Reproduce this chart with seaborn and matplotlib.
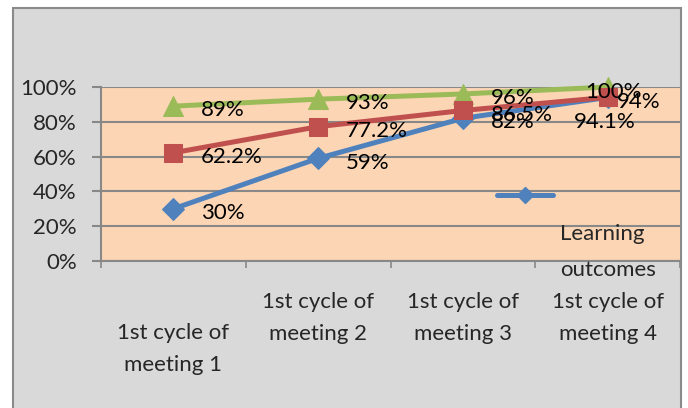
import numpy as np
import pandas as pd
import matplotlib
matplotlib.use("Agg")
import matplotlib.pyplot as plt
import matplotlib.patches as mpatches
from matplotlib.lines import Line2D
from matplotlib.transforms import ScaledTranslation
import seaborn as sns

# ---- data ----
categories = ["1st cycle of\nmeeting 1", "1st cycle of\nmeeting 2",
              "1st cycle of\nmeeting 3", "1st cycle of\nmeeting 4"]
learning_outcomes = [30, 59, 82, 94]      # blue diamonds
series_red = [62.2, 77.2, 86.5, 94.1]     # red squares
series_green = [89, 93, 96, 100]          # green triangles
label_blue = ["30%", "59%", "82%", "94%"]
label_red = ["62.2%", "77.2%", "86.5%", "94.1%"]
label_green = ["89%", "93%", "96%", "100%"]
yticks = [0, 20, 40, 60, 80, 100]
legend_label = "Learning\noutcomes"

BLUE = "#4F81BD"
RED = "#C0504D"
GREEN = "#9BBB59"

sns.set_style("white")
plt.rcParams["font.family"] = ["Lato", "DejaVu Sans"]
FS = 16

fig = plt.figure(figsize=(6.88, 4.08), dpi=100)
fig.patch.set_facecolor("white")
# chart frame
frame = mpatches.Rectangle((13 / 688, -0.05), (681 - 13) / 688, (400 / 408) + 0.05,
                           transform=fig.transFigure, facecolor="#D9D9D9",
                           edgecolor="#8A8A8A", linewidth=1.5, zorder=-5)
fig.patches.append(frame)

ax = fig.add_axes([101 / 688, 1 - 261 / 408, (680 - 101) / 688, (261 - 87) / 408])
ax.set_zorder(2)
ax.set_facecolor("#FCD5B4")

xs = np.arange(len(categories))
df = pd.DataFrame({"x": np.tile(xs, 3),
                   "value": learning_outcomes + series_green + series_red,
                   "series": ["blue"] * 4 + ["green"] * 4 + ["red"] * 4})

sns.lineplot(data=df[df.series == "blue"], x="x", y="value", color=BLUE, marker="D",
             markersize=11, markeredgecolor=BLUE, linewidth=3.6, ax=ax, zorder=3,
             clip_on=False, legend=False)
sns.lineplot(data=df[df.series == "green"], x="x", y="value", color=GREEN, marker="^",
             markersize=15, markeredgecolor=GREEN, linewidth=3.6, ax=ax, zorder=4,
             clip_on=False, legend=False)
sns.lineplot(data=df[df.series == "red"], x="x", y="value", color=RED, marker="s",
             markersize=13.5, markeredgecolor=RED, linewidth=3.6, ax=ax, zorder=5,
             clip_on=False, legend=False)

ax.set_xlim(-0.5, len(categories) - 0.5)
ax.set_ylim(0, 100)
ax.set_xlabel("")
ax.set_ylabel("")

# y axis
ax.set_yticks(yticks)
ax.set_yticklabels([f"{v}%" for v in yticks], fontsize=FS)
ax.tick_params(axis="y", which="major", length=6.5, width=1.5, color="#888888",
               pad=11, direction="out", left=True)
ax.grid(axis="y", color="#888888", linewidth=1.5, zorder=1)
ax.grid(axis="x", visible=False)
ax.set_axisbelow(True)

# x axis
ax.set_xticks(xs)
ax.set_xticklabels(categories, fontsize=FS, linespacing=1.75)
ax.set_xticks(np.arange(-0.5, len(categories), 1.0), minor=True)
ax.tick_params(axis="x", which="major", length=0, pad=22)
ax.tick_params(axis="x", which="minor", length=5, width=1.2, color="#888888",
               direction="out", bottom=True)
# staggered first label
first = ax.get_xticklabels()[0]
first.set_transform(first.get_transform() + ScaledTranslation(0, -31 / 100, fig.dpi_scale_trans))

for side in ["top", "right"]:
    ax.spines[side].set_visible(False)
for side in ["left", "bottom"]:
    ax.spines[side].set_color("#888888")
    ax.spines[side].set_linewidth(1.5)

# data labels
default_off = (20, -3)
offsets_blue = [default_off, default_off, default_off, (7, -3)]
offsets_red = [default_off, default_off, default_off, (-2, -17.5)]
offsets_green = [default_off, default_off, default_off, (4.5, -3.5)]
ha_blue = ["left"] * 4
ha_red = ["left", "left", "left", "center"]
ha_green = ["left", "left", "left", "center"]

for vals, labs, offs, has in [(learning_outcomes, label_blue, offsets_blue, ha_blue),
                              (series_red, label_red, offsets_red, ha_red),
                              (series_green, label_green, offsets_green, ha_green)]:
    for i, (v, t, o, h) in enumerate(zip(vals, labs, offs, has)):
        ax.annotate(t, xy=(xs[i], v), xytext=o, textcoords="offset points",
                    ha=h, va="center", fontsize=FS, color="black", zorder=10,
                    annotation_clip=False)

# legend (handle only) + its text
handle = Line2D([], [], color=BLUE, marker="D", markersize=8, linewidth=3.6,
                markeredgecolor=BLUE, solid_capstyle="round")
leg = ax.legend(handles=[handle], labels=[""], loc="center",
                bbox_to_anchor=((525 - 101) / 579, (261 - 197) / 174),
                frameon=False, handlelength=2.5, handletextpad=0, borderpad=0,
                borderaxespad=0, fontsize=FS)
ax.text((560 - 101) / 579, (261 - 252) / 174, legend_label, transform=ax.transAxes,
        ha="left", va="center", fontsize=FS, linespacing=1.95, zorder=10, clip_on=False)

fig.savefig("out.png", dpi=100, facecolor=fig.get_facecolor())
